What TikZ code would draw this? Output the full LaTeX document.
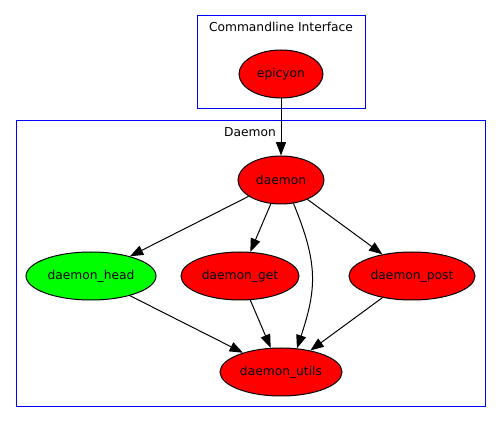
\documentclass[tikz,border=0pt]{standalone}
\usepackage{fontspec}
\setmainfont{DejaVu Sans}
\usetikzlibrary{arrows.meta,shapes.geometric}

\begin{document}
\begin{tikzpicture}[>={Triangle[length=10pt,width=7.5pt]},x=.75pt,y=-.75pt,line width=.75pt,
  every node/.style={font=\fontsize{9.2}{11}\selectfont},
  mod/.style={ellipse,draw,fill=red,inner sep=0pt,minimum height=36pt},
  cluster/.style={draw=blue}]
\useasboundingbox (0,0) rectangle (501,424);
% clusters
\draw[cluster] (197,16) rectangle (365,109);\node (cli) at (281,27){Commandline Interface};
\draw[cluster] (16,121) rectangle (485,407);\node (dmn) at (250,132){Daemon};
% modules
\node[mod,minimum width=63pt] (epicyon) at (281,74){epicyon};
\node[mod,minimum width=64.5pt] (daemon) at (281,180){daemon};
\node[mod,fill=green,minimum width=97.5pt] (daemon_head) at (91,276){daemon\_head};
\node[mod,minimum width=88.5pt] (daemon_get) at (240,276){daemon\_get};
\node[mod,minimum width=94.5pt] (daemon_post) at (412,276){daemon\_post};
\node[mod,minimum width=91.5pt] (daemon_utils) at (281,372){daemon\_utils};
% imports
\draw[->] (epicyon)--(daemon);
\draw[->] (daemon)--(daemon_head);\draw[->] (daemon)--(daemon_get);\draw[->] (daemon)--(daemon_post);
\draw[->] (daemon.-62).. controls (318,263) and (317,288)..(daemon_utils.56);
\draw[->] (daemon_head)--(daemon_utils);\draw[->] (daemon_get)--(daemon_utils);\draw[->] (daemon_post)--(daemon_utils);
\end{tikzpicture}
\end{document}
